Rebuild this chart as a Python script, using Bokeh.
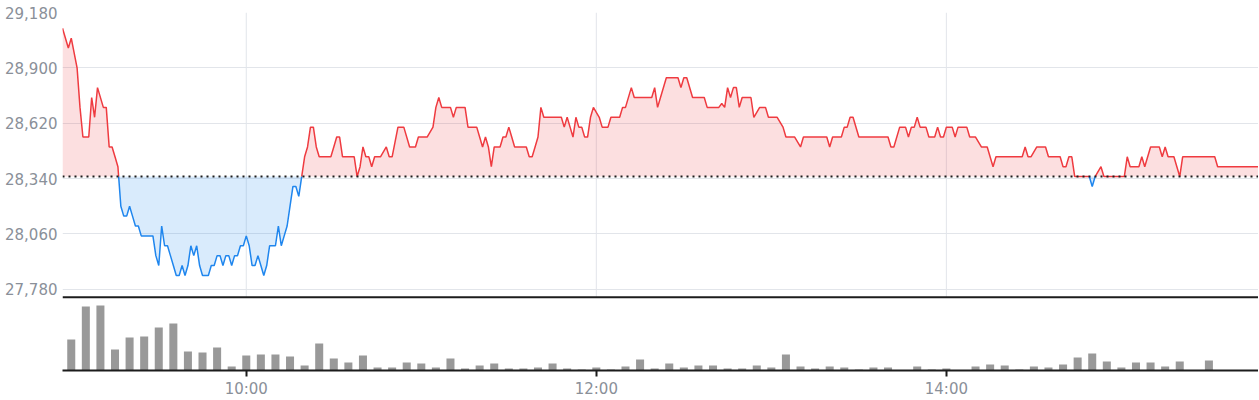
import numpy as np
from bokeh.plotting import figure
from bokeh.models import Range1d, FixedTicker, NumeralTickFormatter, Span
from bokeh.embed import file_html
from bokeh.resources import INLINE

# ---------------- data ----------------
# minutes since midnight
times = [537, 539, 540, 542, 543, 544, 546, 547, 548, 549, 551, 552, 553, 554, 555, 556,
         557, 558, 559, 560, 561, 562, 563, 564, 568, 569, 570, 571, 572, 573, 574, 575,
         576, 577, 578, 579, 580, 581, 582, 583, 584, 585, 587, 588, 589, 590, 591, 592,
         593, 594, 595, 596, 597, 598, 599, 600, 601, 602, 603, 604, 605, 606, 607, 608,
         610, 611, 612, 613, 614, 615, 616, 617, 618, 619, 620, 621, 622, 623, 624, 625,
         629, 630, 631, 632, 633, 637, 638, 639, 640, 641, 642, 643, 644, 646, 648, 649,
         650, 652, 654, 656, 658, 659, 662, 664, 665, 666, 667, 670, 671, 672, 675, 676,
         679, 680, 681, 682, 683, 684, 685, 687, 688, 689, 690, 691, 692, 696, 697, 698,
         699, 700, 701, 702, 708, 709, 710, 711, 712, 713, 714, 715, 716, 717, 718, 719,
         721, 722, 724, 725, 728, 729, 730, 732, 733, 739, 740, 741, 742, 744, 748, 749,
         750, 751, 753, 757, 758, 762, 763, 764, 765, 766, 767, 768, 769, 770, 773, 774,
         776, 778, 779, 782, 784, 785, 788, 790, 791, 799, 800, 801, 804, 805, 806, 807,
         808, 810, 820, 821, 822, 824, 826, 827, 828, 829, 830, 831, 833, 834, 836, 837,
         838, 839, 840, 842, 843, 844, 847, 848, 850, 852, 854, 856, 857, 866, 867, 868,
         869, 871, 874, 875, 879, 880, 881, 882, 883, 884, 889, 890, 891, 893, 894, 901,
         902, 903, 906, 907, 908, 910, 913, 914, 915, 916, 918, 920, 921, 932, 933, 947]
prices = [29100, 29000, 29050, 28900, 28700, 28550, 28550, 28750, 28650, 28800, 28700, 28700, 28500, 28500, 28450, 28400,
          28200, 28150, 28150, 28200, 28150, 28100, 28100, 28050, 28050, 27950, 27900, 28100, 28000, 28000, 27950, 27900,
          27850, 27850, 27900, 27850, 27900, 28000, 27950, 28000, 27900, 27850, 27850, 27900, 27900, 27950, 27950, 27900,
          27950, 27950, 27900, 27950, 27950, 28000, 28000, 28050, 28000, 27900, 27900, 27950, 27900, 27850, 27900, 28000,
          28000, 28100, 28000, 28050, 28100, 28200, 28300, 28300, 28250, 28350, 28450, 28500, 28600, 28600, 28500, 28450,
          28450, 28500, 28550, 28550, 28450, 28450, 28350, 28400, 28500, 28450, 28450, 28400, 28450, 28450, 28500, 28450,
          28450, 28600, 28600, 28500, 28500, 28550, 28550, 28600, 28700, 28750, 28700, 28700, 28650, 28700, 28700, 28600,
          28600, 28550, 28500, 28550, 28500, 28400, 28500, 28500, 28550, 28550, 28600, 28550, 28500, 28500, 28450, 28450,
          28500, 28550, 28700, 28650, 28650, 28600, 28650, 28600, 28550, 28650, 28600, 28600, 28550, 28550, 28650, 28700,
          28650, 28600, 28600, 28650, 28650, 28700, 28700, 28800, 28750, 28750, 28800, 28700, 28750, 28850, 28850, 28800,
          28850, 28850, 28750, 28750, 28700, 28700, 28720, 28700, 28800, 28750, 28800, 28800, 28700, 28750, 28750, 28650,
          28700, 28700, 28650, 28650, 28600, 28550, 28550, 28500, 28550, 28550, 28500, 28550, 28550, 28600, 28600, 28650,
          28650, 28550, 28550, 28500, 28500, 28600, 28600, 28550, 28600, 28600, 28650, 28600, 28600, 28550, 28550, 28600,
          28550, 28550, 28600, 28600, 28550, 28600, 28600, 28550, 28550, 28500, 28500, 28400, 28450, 28450, 28500, 28450,
          28450, 28500, 28500, 28450, 28450, 28400, 28400, 28450, 28450, 28350, 28350, 28300, 28350, 28400, 28350, 28350,
          28450, 28400, 28400, 28450, 28400, 28500, 28500, 28450, 28500, 28450, 28450, 28350, 28450, 28450, 28400, 28400]
prev_close = 28350

y_ticks = [27780, 28060, 28340, 28620, 28900, 29180]
x_ticks = [600, 720, 840]
x_labels = ["10:00", "12:00", "14:00"]

vol_times = list(range(540, 935, 5))
volumes = [31, 64, 65, 21, 33, 34, 43, 47, 19, 18,
           23, 4, 15, 16, 16, 14, 5, 27, 12, 8,
           15, 3, 3, 8, 7, 3, 12, 2, 5, 7,
           2, 2, 3, 7, 2, 1, 3, 1, 4, 11,
           2, 7, 3, 5, 5, 2, 2, 5, 3, 16,
           4, 2, 4, 3, 1, 3, 3, 0, 4, 1,
           2, 0, 4, 6, 5, 1, 4, 3, 6, 13,
           17, 9, 3, 8, 8, 4, 9, 0, 10]

# ---------------- styles ----------------
RED = "#ef3b40"
BLUE = "#1f86ee"
GRID = "#e2e5ea"
LABEL = "#8a9099"
DARK = "#1c1c1c"
FONT = "DejaVu Sans"
FSIZE = "15px"

# ranges: price panel occupies the upper part of the frame, volume the lower part
price_top = 29180
price_panel_bottom = 27740      # separator between price and volume panels
price_frame_bottom = 27369      # price value at the frame bottom (volume baseline)
vol_top = 358                   # volume value at the frame top

# ---------------- split at previous close ----------------
ax, ay = [times[0]], [float(prices[0])]
for i in range(1, len(times)):
    t0, p0, t1, p1 = times[i - 1], prices[i - 1], times[i], prices[i]
    if (p0 - prev_close) * (p1 - prev_close) < 0:
        tc = t0 + (prev_close - p0) * (t1 - t0) / (p1 - p0)
        ax.append(tc)
        ay.append(float(prev_close))
    ax.append(t1)
    ay.append(float(p1))
ax = np.array(ax)
ay = np.array(ay)

runs = {"red": ([], []), "blue": ([], [])}
cur, cx, cy = None, [], []
for i in range(len(ax) - 1):
    y0, y1 = ay[i], ay[i + 1]
    col = "red" if (max(y0, y1) > prev_close or (y0 == prev_close and y1 == prev_close)) else "blue"
    if col != cur:
        if cur is not None:
            runs[cur][0].append(cx)
            runs[cur][1].append(cy)
        cur, cx, cy = col, [ax[i]], [ay[i]]
    cx.append(ax[i + 1])
    cy.append(ay[i + 1])
runs[cur][0].append(cx)
runs[cur][1].append(cy)

# ---------------- figure ----------------
p = figure(width=1258, height=400, x_range=Range1d(537, 947),
           y_range=Range1d(price_frame_bottom, price_top),
           output_backend="svg", toolbar_location=None,
           min_border_left=62, min_border_right=0, min_border_top=12, min_border_bottom=29)
p.extra_y_ranges = {"vol": Range1d(0, vol_top)}
p.outline_line_color = None
p.background_fill_color = "white"

# vertical grid lines only within the price panel
p.segment(x0=x_ticks, x1=x_ticks, y0=[price_panel_bottom] * len(x_ticks),
          y1=[price_top] * len(x_ticks), line_color=GRID, line_width=1)

base = np.full(len(ax), float(prev_close))
p.varea(x=ax, y1=base, y2=np.maximum(ay, prev_close), fill_color=RED, fill_alpha=0.16)
p.varea(x=ax, y1=base, y2=np.minimum(ay, prev_close), fill_color=BLUE, fill_alpha=0.17)
p.multi_line(xs=runs["red"][0], ys=runs["red"][1], line_color=RED, line_width=1.5)
p.multi_line(xs=runs["blue"][0], ys=runs["blue"][1], line_color=BLUE, line_width=1.5)
p.add_layout(Span(location=prev_close, dimension="width", line_color=DARK,
                  line_width=2, line_dash="2 4"))
p.add_layout(Span(location=price_panel_bottom, dimension="width", line_color=DARK,
                  line_width=2))

p.vbar(x=vol_times, top=volumes, width=2.75, fill_color="#999999", line_color=None,
       y_range_name="vol")

p.yaxis.ticker = FixedTicker(ticks=y_ticks)
p.yaxis.formatter = NumeralTickFormatter(format="0,0")
p.yaxis.axis_line_color = None
p.yaxis.major_tick_line_color = None
p.yaxis.minor_tick_line_color = None
p.yaxis.major_tick_out = 0
p.yaxis.major_tick_in = 0
p.yaxis.minor_tick_out = 0
p.yaxis.minor_tick_in = 0
p.yaxis.major_label_standoff = 5
p.yaxis.major_label_text_font = FONT
p.yaxis.major_label_text_font_size = FSIZE
p.yaxis.major_label_text_color = LABEL

p.ygrid.grid_line_color = GRID
p.xgrid.grid_line_color = None

p.xaxis.ticker = FixedTicker(ticks=x_ticks)
p.xaxis.major_label_overrides = dict(zip(x_ticks, x_labels))
p.xaxis.axis_line_color = DARK
p.xaxis.axis_line_width = 2
p.xaxis.major_tick_line_color = DARK
p.xaxis.major_tick_line_width = 2
p.xaxis.major_tick_out = 6
p.xaxis.major_tick_in = 0
p.xaxis.minor_tick_line_color = None
p.xaxis.minor_tick_out = 0
p.xaxis.minor_tick_in = 0
p.xaxis.major_label_standoff = 3
p.xaxis.major_label_text_font = FONT
p.xaxis.major_label_text_font_size = FSIZE
p.xaxis.major_label_text_color = LABEL

open("out.html", "w").write(file_html(p, INLINE))
